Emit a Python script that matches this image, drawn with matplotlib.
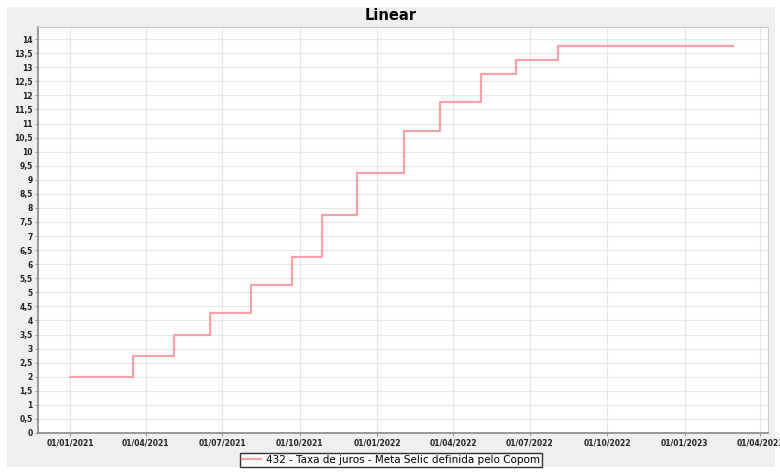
import matplotlib
matplotlib.use("Agg")
import numpy as np
import matplotlib.pyplot as plt
import matplotlib.dates as mdates
from matplotlib.patches import Rectangle
from matplotlib.ticker import MultipleLocator, FuncFormatter
import datetime as dt

# Copom decision dates and Selic target (% a.a.)
dates = ["2021-01-01", "2021-03-17", "2021-05-05", "2021-06-16", "2021-08-04",
         "2021-09-22", "2021-10-27", "2021-12-08", "2022-02-02", "2022-03-16",
         "2022-05-04", "2022-06-15", "2022-08-03", "2023-02-28"]
selic = [2.0, 2.75, 3.5, 4.25, 5.25, 6.25, 7.75, 9.25, 10.75, 11.75,
         12.75, 13.25, 13.75, 13.75]
xticks = ["2021-01-01", "2021-04-01", "2021-07-01", "2021-10-01", "2022-01-01",
          "2022-04-01", "2022-07-01", "2022-10-01", "2023-01-01", "2023-04-01"]
series_label = "432 - Taxa de juros - Meta Selic definida pelo Copom"

x = [dt.datetime.strptime(d, "%Y-%m-%d") for d in dates]
xt = [dt.datetime.strptime(d, "%Y-%m-%d") for d in xticks]

fig = plt.figure(figsize=(7.8, 4.74), dpi=100)
fig.patch.set_facecolor("white")
# gray chart panel
fig.patches.append(Rectangle((7/780, 1-467/474), 768/780, 460/474,
                             transform=fig.transFigure, facecolor="#efefef",
                             edgecolor="none", zorder=-10))

ax = fig.add_axes([38/780, 1-433/474, 730/780, 406/474])
ax.set_facecolor("white")
line, = ax.step(x, selic, where="post", color="#f4a2a8", lw=1.6)

ax.set_ylim(0, 14.43)
ax.set_xlim(dt.datetime(2020, 11, 24), dt.datetime(2023, 4, 10))
ax.yaxis.set_major_locator(MultipleLocator(0.5))
ax.yaxis.set_major_formatter(FuncFormatter(lambda v, p: ("%g" % v).replace(".", ",")))
ax.set_xticks(xt)
ax.xaxis.set_major_formatter(mdates.DateFormatter("%d/%m/%Y"))

ax.grid(True, color="#e6e6e6", lw=0.8)
ax.set_axisbelow(True)
ax.tick_params(labelsize=5.5, length=2, width=0.6, color="#888888", pad=2,
               labelcolor="#222222")
for lab in ax.get_xticklabels() + ax.get_yticklabels():
    lab.set_fontweight("bold")
for side in ["top", "right"]:
    ax.spines[side].set_color("#cccccc")
for side in ["left", "bottom"]:
    ax.spines[side].set_color("#888888")
    ax.spines[side].set_linewidth(1.2)

fig.text(391/780, 1-16/474, "Linear", ha="center", va="center",
         fontsize=10.5, fontweight="bold")

leg = fig.legend([line], [series_label], loc="center",
                 bbox_to_anchor=(391/780, 1-460/474), fontsize=7.5,
                 frameon=True, fancybox=False, borderpad=0.2,
                 handlelength=1.8, handletextpad=0.5)
leg.get_frame().set_edgecolor("black")
leg.get_frame().set_linewidth(1.0)

fig.savefig("out.png", dpi=100)
